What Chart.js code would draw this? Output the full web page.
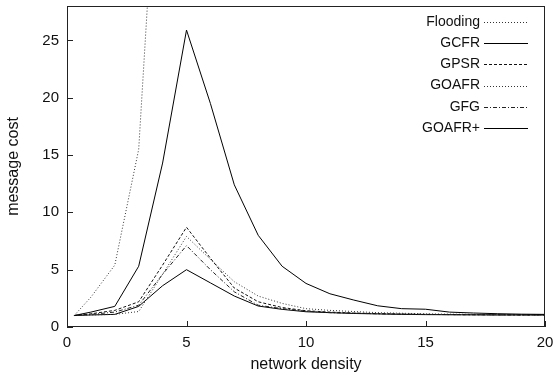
<!DOCTYPE html>
<html>
<head>
<meta charset="utf-8">
<script src="https://cdn.jsdelivr.net/npm/chart.js@4/dist/chart.umd.min.js"></script>
<style>
  html, body { margin: 0; padding: 0; background: #fff; }
  #wrap { width: 555px; height: 377px; }
</style>
</head>
<body>
<div id="wrap"><canvas id="chart" width="555" height="377"></canvas></div>
<script>
// network density values along the x axis
const density = [0.3, 1, 2, 3, 4, 5, 6, 7, 8, 9, 10, 11, 12, 13, 14, 15, 16, 17, 18, 19, 20];

// message cost per routing algorithm
const flooding = [1, 2.6, 5.4, 15.5, 50];
const gcfr = [1, 1.3, 1.8, 5.3, 14.3, 25.9, 19.5, 12.4, 8.0, 5.3, 3.8, 2.9, 2.35, 1.85, 1.6, 1.55, 1.3, 1.22, 1.16, 1.12, 1.1];
const gpsr = [1, 1.15, 1.45, 2.2, 5.4, 8.7, 6.0, 3.4, 2.2, 1.7, 1.42, 1.3, 1.22, 1.17, 1.13, 1.1, 1.08, 1.07, 1.06, 1.05, 1.05];
const goafr = [1, 1.05, 1.1, 1.35, 4.6, 7.9, 5.9, 3.95, 2.7, 2.06, 1.6, 1.45, 1.35, 1.25, 1.2, 1.15, 1.12, 1.1, 1.08, 1.06, 1.05];
const gfg = [1, 1.1, 1.3, 1.9, 4.6, 7.1, 5.0, 3.07, 1.9, 1.6, 1.38, 1.25, 1.2, 1.15, 1.12, 1.1, 1.08, 1.07, 1.06, 1.05, 1.05];
const goafrPlus = [1, 1.05, 1.1, 1.8, 3.6, 5.0, 3.85, 2.7, 1.83, 1.54, 1.33, 1.25, 1.18, 1.14, 1.1, 1.08, 1.07, 1.06, 1.05, 1.05, 1.05];

const xTicks = [0, 5, 10, 15, 20];
const yTicks = [0, 5, 10, 15, 20, 25];

const pts = ys => ys.map((y, i) => ({ x: density[i], y }));

const series = [
  { label: 'Flooding', data: pts(flooding), borderColor: '#333', borderDash: [1, 2] },
  { label: 'GCFR', data: pts(gcfr), borderColor: '#000', borderDash: [] },
  { label: 'GPSR', data: pts(gpsr), borderColor: '#111', borderDash: [3, 2] },
  { label: 'GOAFR', data: pts(goafr), borderColor: '#333', borderDash: [1, 2] },
  { label: 'GFG', data: pts(gfg), borderColor: '#222', borderDash: [4, 2, 1, 2] },
  { label: 'GOAFR+', data: pts(goafrPlus), borderColor: '#000', borderDash: [] },
];

const FONT = "'Liberation Sans', Arial, sans-serif";

// gnuplot style frame, inward ticks and key (text then sample)
const framePlugin = {
  id: 'frame',
  afterDraw(chart) {
    const { ctx, chartArea: a, scales } = chart;
    ctx.save();
    ctx.strokeStyle = '#222';
    ctx.lineWidth = 1;
    ctx.setLineDash([]);
    ctx.strokeRect(a.left + 0.5, a.top + 0.5, a.right - a.left - 1, a.bottom - a.top - 1);
    ctx.beginPath();
    xTicks.forEach(v => {
      const px = Math.round(scales.x.getPixelForValue(v)) + 0.5;
      ctx.moveTo(px, a.bottom);
      ctx.lineTo(px, a.bottom - 6);
    });
    yTicks.forEach(v => {
      const py = Math.round(scales.y.getPixelForValue(v)) + 0.5;
      ctx.moveTo(a.left, py);
      ctx.lineTo(a.left + 6, py);
    });
    ctx.stroke();

    ctx.font = '14px ' + FONT;
    ctx.textAlign = 'right';
    ctx.textBaseline = 'middle';
    chart.data.datasets.forEach((ds, i) => {
      const y = 21.7 + i * 21.3;
      ctx.fillStyle = '#111';
      ctx.fillText(ds.label, 480, y);
      ctx.strokeStyle = ds.borderColor;
      ctx.setLineDash(ds.borderDash);
      ctx.beginPath();
      ctx.moveTo(484, Math.round(y) + 0.5);
      ctx.lineTo(528, Math.round(y) + 0.5);
      ctx.stroke();
    });
    ctx.restore();
  }
};

const noPad = s => { s.paddingLeft = 0; s.paddingRight = 0; s.paddingTop = 0; s.paddingBottom = 0; };

new Chart(document.getElementById('chart'), {
  type: 'line',
  data: {
    datasets: series.map(s => ({
      ...s,
      borderWidth: 1,
      pointRadius: 0,
      tension: 0,
      fill: false,
    })),
  },
  options: {
    responsive: false,
    animation: false,
    layout: { padding: { top: 6, right: 10, left: 0, bottom: 0 } },
    plugins: { legend: { display: false }, tooltip: { enabled: false } },
    scales: {
      x: {
        type: 'linear',
        min: 0,
        max: 20,
        afterFit: s => { s.height = 50; noPad(s); },
        afterBuildTicks: s => { s.ticks = xTicks.map(v => ({ value: v })); },
        grid: { display: false, drawTicks: false },
        border: { display: false },
        ticks: { padding: 7, color: '#111', font: { family: FONT, size: 15 } },
        title: { display: true, text: 'network density', color: '#111', padding: { top: 0, bottom: 3 }, font: { family: FONT, size: 16 } },
      },
      y: {
        min: 0,
        max: 28,
        afterFit: s => { s.width = 67; noPad(s); },
        afterBuildTicks: s => { s.ticks = yTicks.map(v => ({ value: v })); },
        grid: { display: false, drawTicks: false },
        border: { display: false },
        ticks: { padding: 8, color: '#111', font: { family: FONT, size: 15 } },
        title: { display: true, text: 'message cost', color: '#111', padding: { top: 4, bottom: 0 }, font: { family: FONT, size: 16 } },
      },
    },
  },
  plugins: [framePlugin],
});
</script>
</body>
</html>
